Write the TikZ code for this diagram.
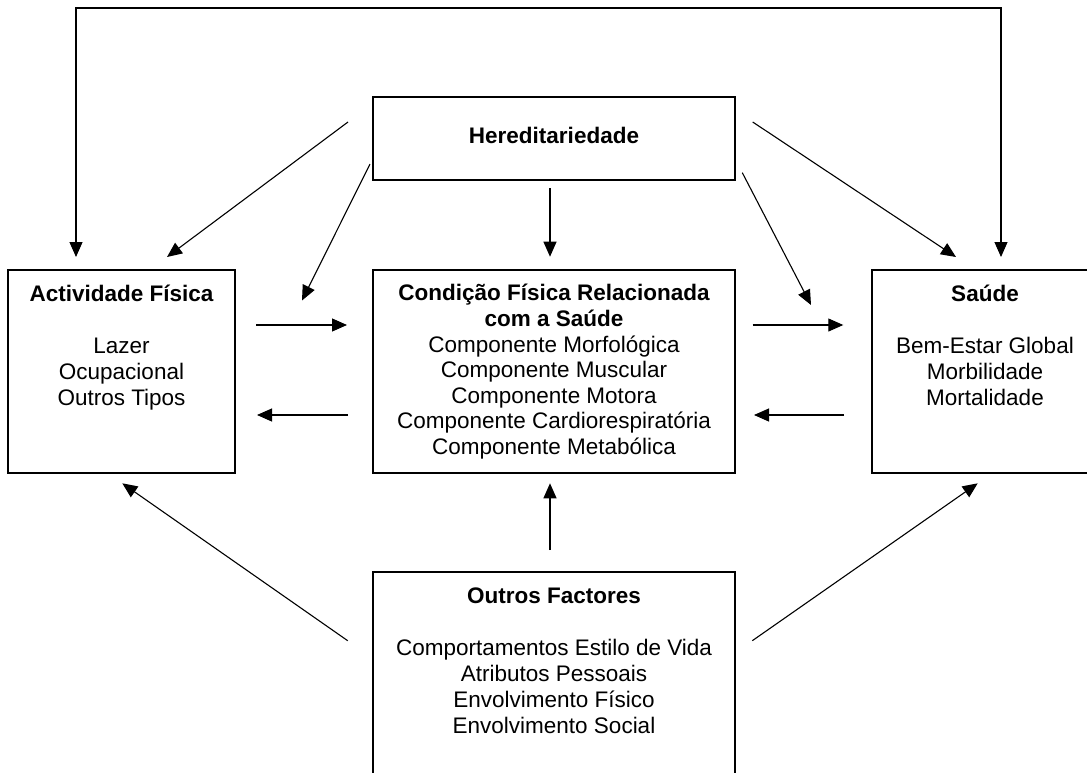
\documentclass[tikz,border=0pt]{standalone}
\usepackage{fontspec}
\setmainfont{Liberation Sans}
\usetikzlibrary{arrows.meta}
\begin{document}
\begin{tikzpicture}[x=1pt,y=-1pt,
  box/.style={draw, line width=1.6pt, inner sep=0pt},
  arr/.style={line width=1.1pt, -{Triangle[length=15pt,width=13pt]}},
  biarr/.style={line width=1.1pt, {Triangle[length=15pt,width=13pt]}-{Triangle[length=15pt,width=13pt]}},
  lbl/.style={anchor=base, inner sep=0pt, font=\fontsize{22.5}{25.6}\selectfont},
  ttl/.style={anchor=base, inner sep=0pt, font=\fontsize{22.5}{25.6}\selectfont\bfseries}]
\path[use as bounding box] (0,0) rectangle (1087,772);
\clip (0,0) rectangle (1087,772);

% boxes
\node[box, minimum width=227pt, minimum height=203pt] (act) at (121.5,371.5) {};
\node[box, minimum width=362pt, minimum height=83pt] (hered) at (554,138.5) {};
\node[box, minimum width=362pt, minimum height=203pt] (cond) at (554,371.5) {};
\node[box, minimum width=226pt, minimum height=203pt] (saude) at (985,371.5) {};
\node[box, minimum width=362pt, minimum height=228pt] (outros) at (554,686) {};

% texts
\node[ttl] (actT) at (121.5,301) {Actividade Física};
\node[lbl] (act1) at (121.5,353) {Lazer};
\node[lbl] (act2) at (121.5,379) {Ocupacional};
\node[lbl] (act3) at (121.5,405) {Outros Tipos};

\node[ttl] (heredT) at (554,143) {Hereditariedade};

\node[ttl] (condT1) at (554,300.5) {Condição Física Relacionada};
\node[ttl] (condT2) at (554,326.5) {com a Saúde};
\node[lbl] (cond1) at (554,352.3) {Componente Morfológica};
\node[lbl] (cond2) at (554,377.8) {Componente Muscular};
\node[lbl] (cond3) at (554,403.3) {Componente Motora};
\node[lbl] (cond4) at (554,428.8) {Componente Cardiorespiratória};
\node[lbl] (cond5) at (554,454.3) {Componente Metabólica};

\node[ttl] (saudeT) at (985,301) {Saúde};
\node[lbl] (saude1) at (985,353) {Bem-Estar Global};
\node[lbl] (saude2) at (985,379) {Morbilidade};
\node[lbl] (saude3) at (985,405) {Mortalidade};

\node[ttl] (outrosT) at (554,603) {Outros Factores};
\node[lbl] (outros1) at (554,655) {Comportamentos Estilo de Vida};
\node[lbl] (outros2) at (554,681) {Atributos Pessoais};
\node[lbl] (outros3) at (554,707) {Envolvimento Físico};
\node[lbl] (outros4) at (554,733) {Envolvimento Social};

% connector end points
\coordinate (la) at (76,257);
\coordinate (c1) at (76,8);
\coordinate (c2) at (1001,8);
\coordinate (ra) at (1001,257);

\coordinate (h1s) at (348,122);   \coordinate (h1e) at (167,257);
\coordinate (h2s) at (370,164);   \coordinate (h2e) at (302,300.5);
\coordinate (h3s) at (550,188.3); \coordinate (h3e) at (550,256.7);
\coordinate (h4s) at (752.7,122); \coordinate (h4e) at (956,257);
\coordinate (h5s) at (742.3,172.7); \coordinate (h5e) at (811,305);

\coordinate (ac1) at (256,325);   \coordinate (ac2) at (347,325);
\coordinate (ca1) at (348,415);   \coordinate (ca2) at (257,415);
\coordinate (cs1) at (752.7,325); \coordinate (cs2) at (843.3,325);
\coordinate (sc1) at (844,415);   \coordinate (sc2) at (754,415);

\coordinate (o1s) at (347.7,640.7); \coordinate (o1e) at (122.3,483.3);
\coordinate (o2s) at (752.3,640.7); \coordinate (o2e) at (977.7,483.3);
\coordinate (o3s) at (550,550);     \coordinate (o3e) at (550,483.3);

% connectors
\draw[biarr] (la) -- (c1) -- (c2) -- (ra);
\draw[arr] (h1s) -- (h1e);
\draw[arr] (h2s) -- (h2e);
\draw[arr] (h3s) -- (h3e);
\draw[arr] (h4s) -- (h4e);
\draw[arr] (h5s) -- (h5e);
\draw[arr] (ac1) -- (ac2);
\draw[arr] (ca1) -- (ca2);
\draw[arr] (cs1) -- (cs2);
\draw[arr] (sc1) -- (sc2);
\draw[arr] (o1s) -- (o1e);
\draw[arr] (o2s) -- (o2e);
\draw[arr] (o3s) -- (o3e);
\end{tikzpicture}
\end{document}
